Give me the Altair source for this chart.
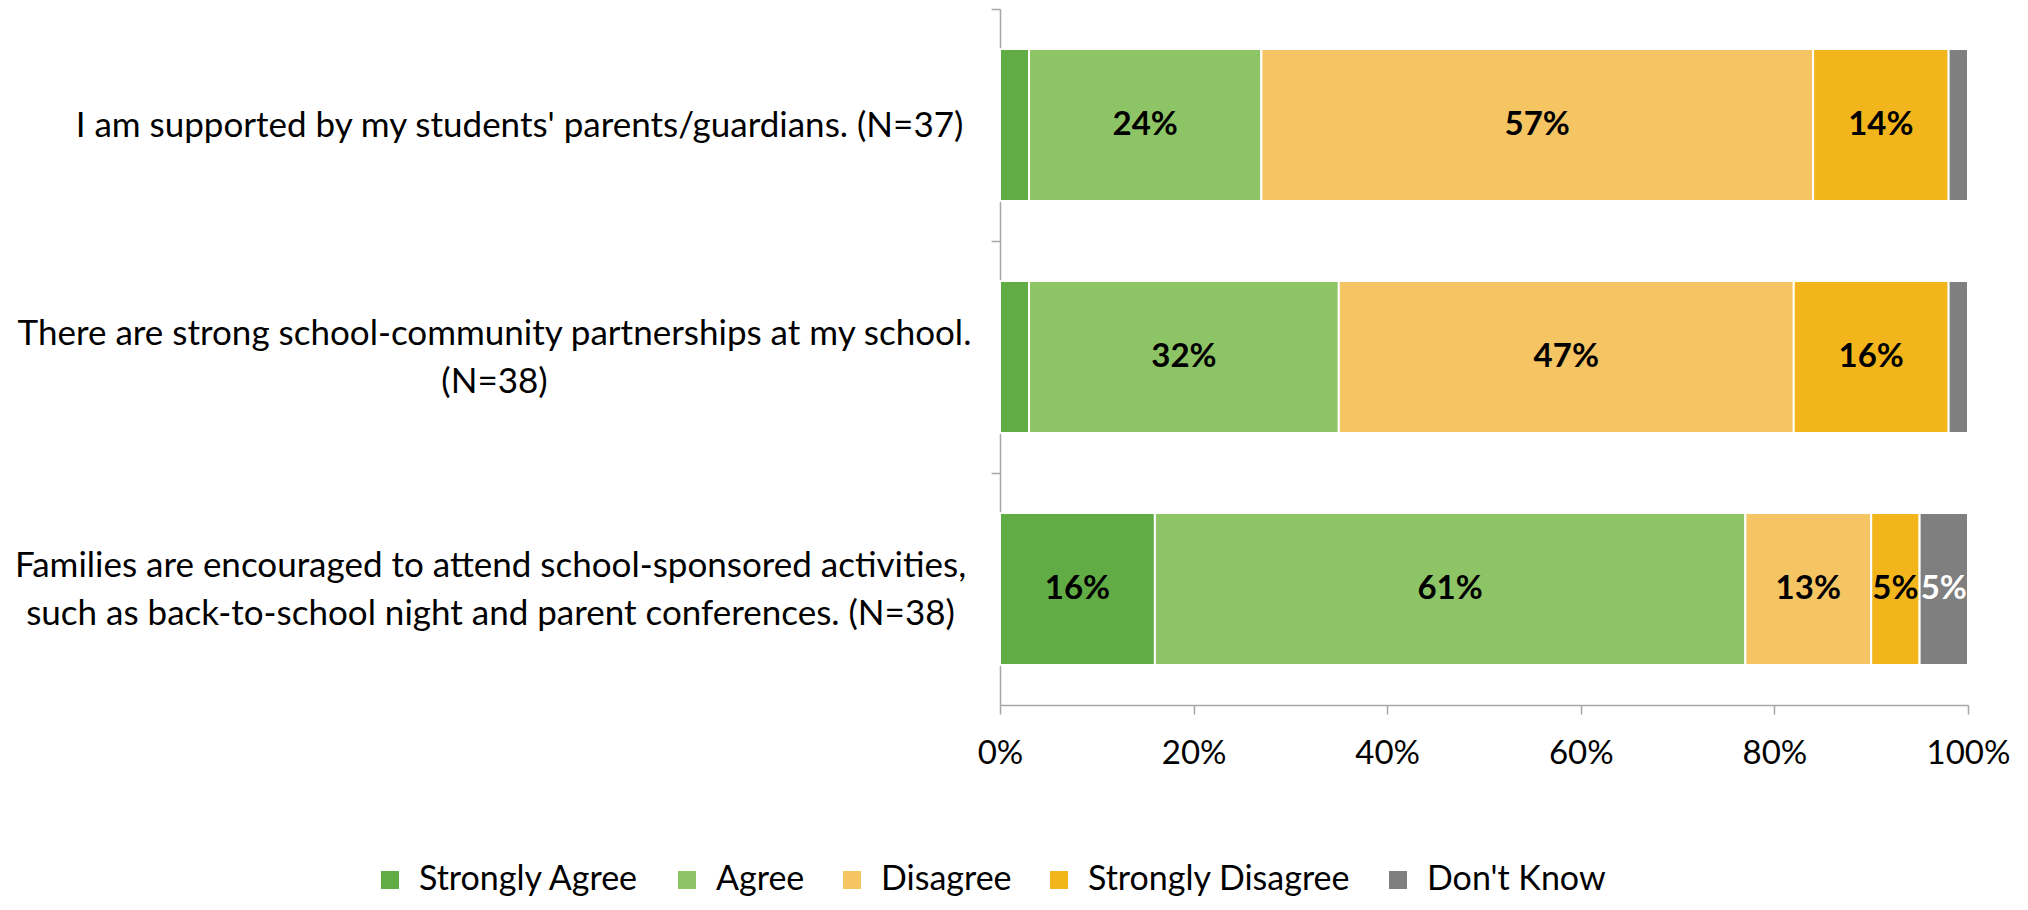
import altair as alt
import pandas as pd

questions = [
    "I am supported by my students' parents/guardians. (N=37)",
    "There are strong school-community partnerships at my school.|(N=38)",
    "Families are encouraged to attend school-sponsored activities,|such as back-to-school night and parent conferences. (N=38)",
]
responses = ["Strongly Agree", "Agree", "Disagree", "Strongly Disagree", "Don't Know"]
strongly_agree = [3, 3, 16]
agree = [24, 32, 61]
disagree = [57, 47, 13]
strongly_disagree = [14, 16, 5]
dont_know = [2, 2, 5]
colors = ["#62AC45", "#8DC466", "#F6C563", "#F2B61C", "#7F7F7F"]
x_ticks = [0, 20, 40, 60, 80, 100]

series = [strongly_agree, agree, disagree, strongly_disagree, dont_know]
rows = []
for qi, q in enumerate(questions):
    for ri, r in enumerate(responses):
        rows.append({"question": q, "response": r, "order": ri, "pct": series[ri][qi]})
df = pd.DataFrame(rows)

FONT = "Lato"
GRAY = "#A6A6A6"
FS = 33
LH = 48

base = alt.Chart(df).transform_stack(
    stack="pct", groupby=["question"], as_=["x0", "x1"],
    sort=[alt.SortField("order", order="ascending")]
).transform_calculate(mid="(datum.x0 + datum.x1) / 2", label="datum.pct + '%'")

multi = "indexof(datum.value, '|') >= 0"
y_enc = alt.Y(
    "question:N", sort=questions, title=None,
    scale=alt.Scale(paddingInner=0.345, paddingOuter=0.1725),
    axis=alt.Axis(
        labelExpr="split(datum.label, '|')", labelAlign="center", labelBaseline="middle",
        labelPadding={
            "condition": [
                {"test": "indexof(datum.value, 'I am') == 0", "value": 472},
                {"test": "indexof(datum.value, 'There') == 0", "value": 497},
            ],
            "value": 501,
        },
        labelOffset={"condition": {"test": multi, "value": 116 - LH / 2}, "value": 116},
        labelFont=FONT, labelFontSize=35, labelColor="black",
        labelLineHeight=LH, labelLimit=3000, tickOffset=-116,
        tickSize=9, tickColor=GRAY, tickWidth=1.5, domainColor=GRAY, domainWidth=1.5,
    ),
)

bars = base.mark_bar(stroke="white", strokeWidth=2).encode(
    y=y_enc,
    x=alt.X(
        "x0:Q", title=None, scale=alt.Scale(domain=[0, 100], nice=False),
        axis=alt.Axis(
            values=x_ticks, labelExpr="datum.value + '%'", labelFont=FONT, labelFontSize=FS,
            labelColor="black", labelPadding=23, tickSize=9, tickColor=GRAY, tickWidth=1.5,
            domainColor=GRAY, domainWidth=1.5, grid=False, labelFlush=False, labelOverlap=False,
        ),
    ),
    x2="x1:Q",
    color=alt.Color(
        "response:N", sort=responses,
        scale=alt.Scale(domain=responses, range=colors),
        legend=alt.Legend(
            title=None, orient="none", legendX=-627, legendY=854, direction="horizontal",
            symbolType="square", symbolSize=324, symbolStrokeWidth=0, labelFont=FONT,
            labelFontSize=34, labelColor="black", columnPadding=30, labelOffset=12,
            labelLimit=500,
        ),
    ),
    order=alt.Order("order:Q"),
)

text = base.transform_filter("datum.pct >= 5").mark_text(
    font=FONT, fontWeight="bold", fontSize=FS, baseline="middle", align="center"
).encode(
    y=alt.Y("question:N", sort=questions),
    x=alt.X("mid:Q"),
    text="label:N",
    color=alt.condition(alt.datum.response == "Don't Know", alt.value("white"), alt.value("black")),
)

chart = alt.layer(bars, text).properties(
    width=968, height=696,
    autosize=alt.AutoSizeParams(type="none"),
    padding={"left": 992, "top": 1, "right": 52, "bottom": 197},
    background="white",
).configure_view(stroke=None)

chart.save("out.html", embed_options={"renderer": "svg", "actions": False})
